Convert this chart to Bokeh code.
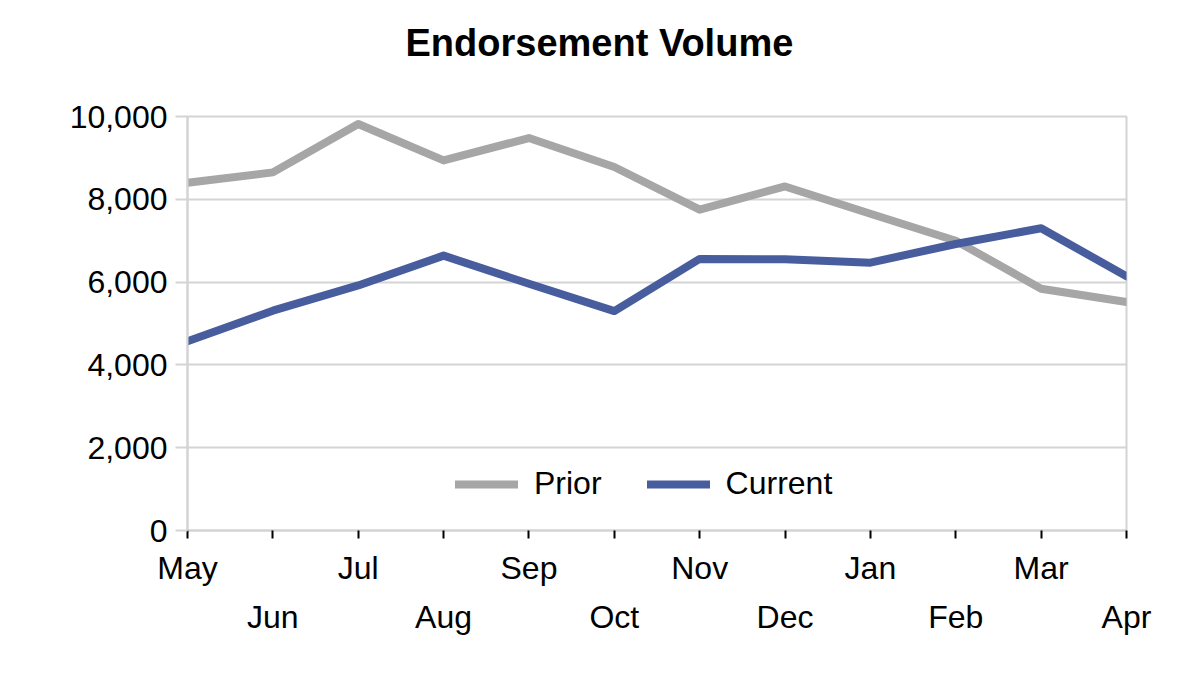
from bokeh.plotting import figure
from bokeh.models import (Range1d, FixedTicker, NumeralTickFormatter, LinearAxis,
                          Legend, LegendItem, Title)
from bokeh.embed import file_html
from bokeh.resources import INLINE

months = ["May", "Jun", "Jul", "Aug", "Sep", "Oct", "Nov", "Dec", "Jan", "Feb", "Mar", "Apr"]
prior = [8400, 8650, 9820, 8940, 9480, 8780, 7750, 8310, 7650, 7000, 5840, 5520]
current = [4570, 5310, 5920, 6640, 5960, 5300, 6560, 6550, 6470, 6920, 7300, 6140]
y_ticks = [0, 2000, 4000, 6000, 8000, 10000]

FONT = "Liberation Sans"
GRID = "#d4d4d4"
x = list(range(len(months)))

p = figure(width=1184, height=659, output_backend="svg", toolbar_location=None,
           x_range=Range1d(0, len(months) - 1), y_range=Range1d(0, 10000),
           min_border_left=187, min_border_right=58, min_border_top=116,
           min_border_bottom=129, x_axis_type=None)
p.background_fill_color = "white"
p.border_fill_color = "white"
p.outline_line_color = GRID
p.outline_line_width = 2

# spacer between the frame and the title
p.add_layout(Title(text=" ", text_font=FONT, text_font_size="12px", standoff=35), "above")

p.title.text = "Endorsement Volume"
p.title.align = "left"
p.title.offset = 218
p.title.vertical_align = "top"
p.title.text_font = FONT
p.title.text_font_size = "38px"
p.title.text_font_style = "bold"
p.title.text_color = "black"
p.title.standoff = 0

r1 = p.line(x, prior, line_color="#a6a6a6", line_width=8, line_cap="round", line_join="round")
r2 = p.line(x, current, line_color="#485d9d", line_width=8, line_cap="round", line_join="round")

# y axis
ya = p.yaxis[0]
ya.ticker = FixedTicker(ticks=y_ticks)
ya.formatter = NumeralTickFormatter(format="0,0")
ya.axis_line_color = GRID
ya.axis_line_width = 2
ya.major_tick_line_color = GRID
ya.major_tick_line_width = 2
ya.major_tick_out = 12
ya.major_tick_in = 0
ya.minor_tick_line_color = None
ya.major_label_text_font = FONT
ya.major_label_text_font_size = "32px"
ya.major_label_text_color = "black"
ya.major_label_standoff = 8

# x axis row 1 (all ticks, even labels)
xa1 = LinearAxis(ticker=FixedTicker(ticks=x),
                 major_label_overrides={i: (months[i] if i % 2 == 0 else " ") for i in x})
xa1.axis_line_color = GRID
xa1.axis_line_width = 2
xa1.major_tick_line_color = "black"
xa1.major_tick_line_width = 2
xa1.major_tick_out = 8
xa1.major_tick_in = 0
xa1.minor_tick_line_color = None
xa1.major_label_text_font = FONT
xa1.major_label_text_font_size = "32px"
xa1.major_label_text_color = "black"
xa1.major_label_standoff = 11
p.add_layout(xa1, "below")

# x axis row 2 (odd labels)
odd = [i for i in x if i % 2 == 1]
xa2 = LinearAxis(ticker=FixedTicker(ticks=odd),
                 major_label_overrides={i: months[i] for i in odd})
xa2.axis_line_color = None
xa2.major_tick_line_color = None
xa2.minor_tick_line_color = None
xa2.major_tick_out = 0
xa2.major_tick_in = 0
xa2.major_label_text_font = FONT
xa2.major_label_text_font_size = "32px"
xa2.major_label_text_color = "black"
xa2.major_label_standoff = 10
p.add_layout(xa2, "below")

p.xgrid.visible = False
p.ygrid.ticker = FixedTicker(ticks=y_ticks)
p.ygrid.grid_line_color = GRID
p.ygrid.grid_line_width = 2

legend = Legend(items=[LegendItem(label="Prior", renderers=[r1]),
                       LegendItem(label="Current", renderers=[r2])],
                orientation="horizontal", location=(268, 28))
legend.label_text_font = FONT
legend.label_text_font_size = "32px"
legend.label_text_color = "black"
legend.glyph_width = 63
legend.label_standoff = 16
legend.spacing = 45
legend.padding = 0
legend.margin = 0
legend.border_line_color = None
legend.background_fill_alpha = 0
p.add_layout(legend, "center")

open("out.html", "w").write(file_html(p, INLINE))
